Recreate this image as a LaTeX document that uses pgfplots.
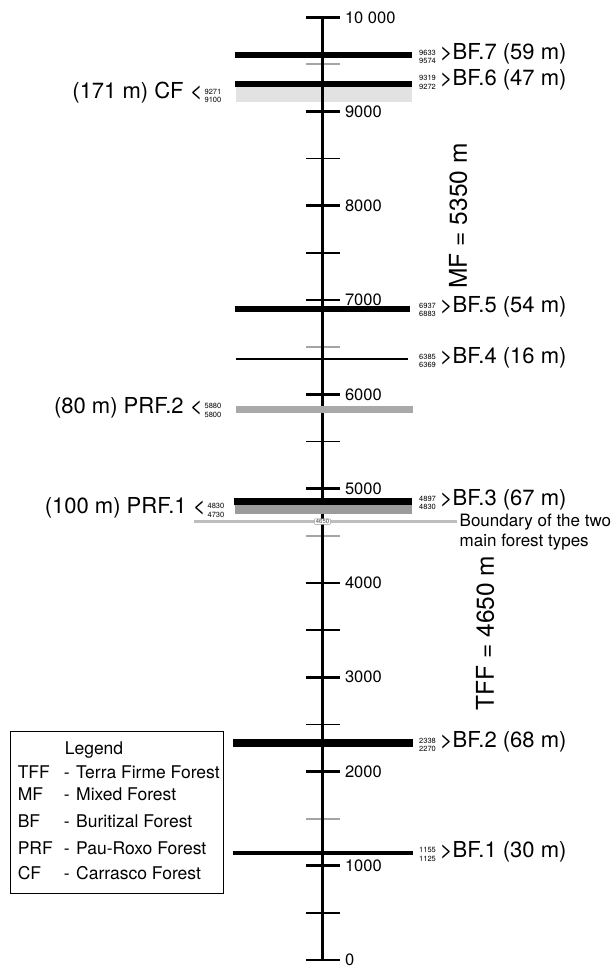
\documentclass[border=0pt]{standalone}
\usepackage{fontspec}
\setmainfont{TeX Gyre Heros}
\usepackage{pgfplots}
\pgfplotsset{compat=1.18}

\definecolor{cfgray}{HTML}{E2E2E2}
\definecolor{prftwo}{HTML}{A9A9A9}
\definecolor{prfone}{HTML}{9B9B9B}
\definecolor{bndgray}{HTML}{BDBDBD}
\definecolor{tickgray}{HTML}{A5A5A5}

% small stacked numbers beside each band
\newcommand{\nums}[2]{{\fontsize{7.5}{8.6}\selectfont\begin{tabular}[c]{@{}l@{}}#1\\#2\end{tabular}}}

\begin{document}
\begin{tikzpicture}
\begin{axis}[
    scale only axis,
    width=322.5pt, height=942.7pt,
    xmin=-322.5, xmax=0,
    ymin=0, ymax=10000,
    clip=false,
    axis x line=none,
    axis y line=right,
    y axis line style={draw=none},
    scaled y ticks=false,
    tick align=center,
    ytick={0,1000,2000,3000,4000,5000,6000,7000,8000,9000,10000},
    yticklabels={0,1000,2000,3000,4000,5000,6000,7000,8000,9000,10 000},
    minor ytick={500,2500,3500,5500,7500,8500},
    extra y ticks={1500,4500,6500,9500},
    extra y tick labels={},
    extra y tick style={major tick length=34pt, major tick style={color=tickgray, line width=2pt}},
    major tick length=34pt,
    minor tick length=34pt,
    major tick style={black, line width=2.8pt},
    minor tick style={black, line width=1.4pt},
    yticklabel style={font=\fontsize{16.5}{16.5}\selectfont, anchor=west, xshift=2pt},
]
% Carrasco forest (under the axis line)
\addplot[fill=cfgray, draw=none] coordinates {(-87,9100) (89,9100) (89,9271) (-87,9271)} -- cycle;

% axis line
\addplot[black, line width=2.3pt] coordinates {(0,0) (0,10000)};

% Buritizal forest bands
\addplot[fill=black, draw=black, line width=0.6pt] coordinates {(-87,9574) (89,9574) (89,9633) (-87,9633)} -- cycle;
\addplot[fill=black, draw=black, line width=0.6pt] coordinates {(-87,9272) (89,9272) (89,9319) (-87,9319)} -- cycle;
\addplot[fill=black, draw=black, line width=0.6pt] coordinates {(-87,6883) (87,6883) (87,6937) (-87,6937)} -- cycle;
\addplot[fill=black, draw=black, line width=0.4pt] coordinates {(-86,6369) (85,6369) (85,6385) (-86,6385)} -- cycle;
\addplot[fill=black, draw=black, line width=0.6pt] coordinates {(-88,4830) (89,4830) (89,4897) (-88,4897)} -- cycle;
\addplot[fill=black, draw=black, line width=0.6pt] coordinates {(-89,2270) (90,2270) (90,2338) (-89,2338)} -- cycle;
\addplot[fill=black, draw=black, line width=0.6pt] coordinates {(-89,1125) (90,1125) (90,1155) (-89,1155)} -- cycle;

% Pau-Roxo forest bands
\addplot[fill=prftwo, draw=none] coordinates {(-87,5800) (90,5800) (90,5880) (-87,5880)} -- cycle;
\addplot[fill=prfone, draw=none] coordinates {(-88,4730) (89,4730) (89,4830) (-88,4830)} -- cycle;

% boundary of the two main forest types
\addplot[bndgray, line width=3pt] coordinates {(-128.5,4650) (134.5,4650)};
\node[draw=gray!80, fill=white, rounded corners=1pt, inner xsep=1.5pt, inner ysep=0.6pt,
      font=\fontsize{6}{6}\selectfont, text=black!70] at (axis cs:0,4650) {4650};
\node[anchor=west, align=left, inner sep=0pt, font=\fontsize{17}{20}\selectfont]
      at (axis cs:137,4543) {Boundary of the two\\main forest types};

% right labels
\begin{scope}[every node/.style={anchor=west, inner sep=0pt, font=\fontsize{22}{24}\selectfont}]
\node at (axis cs:96.5,9600) {\nums{9633}{9574}\hspace{4pt}>BF.7 (59 m)};
\node at (axis cs:96.5,9330) {\nums{9319}{9272}\hspace{4pt}>BF.6 (47 m)};
\node at (axis cs:96.5,6915) {\nums{6937}{6883}\hspace{4pt}>BF.5 (54 m)};
\node at (axis cs:96.5,6377) {\nums{6385}{6369}\hspace{4pt}>BF.4 (16 m)};
\node at (axis cs:96.5,4868) {\nums{4897}{4830}\hspace{4pt}>BF.3 (67 m)};
\node at (axis cs:96.5,2304) {\nums{2338}{2270}\hspace{4pt}>BF.2 (68 m)};
\node at (axis cs:96.5,1140) {\nums{1155}{1125}\hspace{4pt}>BF.1 (30 m)};
\end{scope}

% left labels
\begin{scope}[every node/.style={anchor=east, inner sep=0pt, font=\fontsize{22}{24}\selectfont}]
\node at (axis cs:-101,9190) {(171 m) CF <\hspace{2pt}\nums{9271}{9100}};
\node at (axis cs:-101,5850) {(80 m) PRF.2 <\hspace{2pt}\nums{5880}{5800}};
\node at (axis cs:-98,4790) {(100 m) PRF.1 <\hspace{2pt}\nums{4830}{4730}};
\end{scope}

% forest totals
\node[rotate=90, font=\fontsize{24.5}{24.5}\selectfont] at (axis cs:135.5,7893) {MF = 5350 m};
\node[rotate=90, font=\fontsize{24.5}{24.5}\selectfont] at (axis cs:162.5,3469) {TFF = 4650 m};

% legend box
\draw[line width=0.8pt] (axis cs:-312.5,711) rectangle (axis cs:-99.5,2429);
\begin{scope}[every node/.style={inner sep=0pt, font=\fontsize{17.5}{17.5}\selectfont}]
\node[anchor=base] at (axis cs:-228.5,2175) {Legend};
\node[anchor=base west] at (axis cs:-304.9,1923) {TFF};
\node[anchor=base west] at (axis cs:-304.9,1687) {MF};
\node[anchor=base west] at (axis cs:-304.9,1404) {BF};
\node[anchor=base west] at (axis cs:-304.9,1124) {PRF};
\node[anchor=base west] at (axis cs:-304.9,859) {CF};
\node[anchor=base west] at (axis cs:-258.8,1923) {-};
\node[anchor=base west] at (axis cs:-258.8,1687) {-};
\node[anchor=base west] at (axis cs:-258.8,1404) {-};
\node[anchor=base west] at (axis cs:-258.8,1124) {-};
\node[anchor=base west] at (axis cs:-258.8,859) {-};
\node[anchor=base west] at (axis cs:-246.5,1923) {Terra Firme Forest};
\node[anchor=base west] at (axis cs:-246.5,1687) {Mixed Forest};
\node[anchor=base west] at (axis cs:-246.5,1404) {Buritizal Forest};
\node[anchor=base west] at (axis cs:-246.5,1124) {Pau-Roxo Forest};
\node[anchor=base west] at (axis cs:-246.5,859) {Carrasco Forest};
\end{scope}
\end{axis}
\pgfresetboundingbox
\path[use as bounding box] (0,-8pt) rectangle (612pt,960pt);
\end{tikzpicture}
\end{document}
